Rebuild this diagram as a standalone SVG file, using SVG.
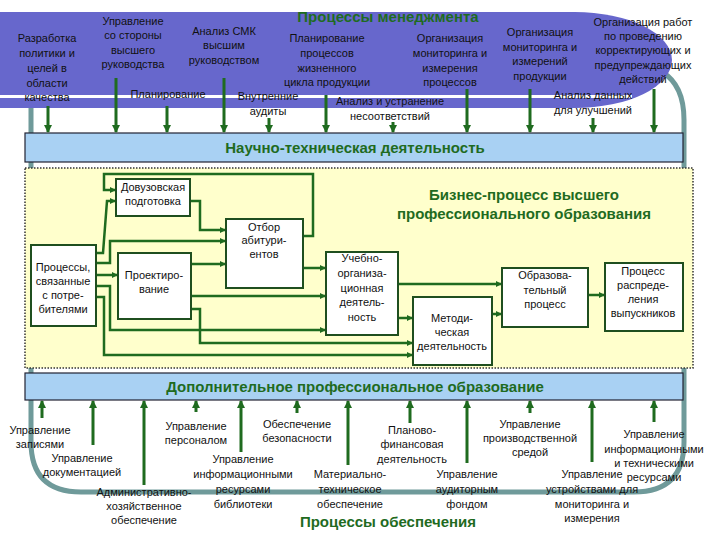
<svg xmlns="http://www.w3.org/2000/svg" width="720" height="540" viewBox="0 0 720 540">
<defs>
<marker id="ah" markerWidth="6" markerHeight="6" refX="5" refY="3" orient="auto" markerUnits="userSpaceOnUse"><path d="M0,0 L6,3 L0,6 Z" fill="#1f6b1f"/></marker>
<marker id="ab" markerWidth="8" markerHeight="8" refX="7" refY="4" orient="auto" markerUnits="userSpaceOnUse"><path d="M0,0 L8,4 L0,8 Z" fill="#1f6b1f"/></marker>
</defs>
<style>
text{font-family:"Liberation Sans",Arial,sans-serif;font-size:11px;fill:#111;text-anchor:middle}
.h{font-size:15px;font-weight:bold;fill:#1f6b1f}
.box{fill:#fff;stroke:#1f4f1f;stroke-width:2}
.c{fill:none;stroke:#1f6b1f;stroke-width:2.5;marker-end:url(#ah)}
.v{fill:none;stroke:#1f6b1f;stroke-width:3;marker-end:url(#ab)}
.bar{fill:#a9d1f3;stroke:#223;stroke-width:1.2}
</style>
<rect width="720" height="540" fill="#fff"/>
<path d="M31,100 V442 Q31,492 81,492 H634 Q684,492 684,442 V120 Q684,85 662,72" fill="none" stroke="#6f9a9a" stroke-width="5"/>
<path d="M0,12 H575 A97,48 0 0 1 575,108 H0 Z" fill="#6767cc"/>
<rect x="0" y="95" width="632" height="3" fill="#fff"/>
<text class="h" x="388" y="22">Процессы менеджмента</text>
<g id="top-texts">
<text x="47" y="42">Разработка</text><text x="47" y="57">политики и</text><text x="47" y="72">целей в</text><text x="47" y="87">области</text><text x="47" y="101">качества</text>
<text x="133" y="25">Управление</text><text x="133" y="39">со стороны</text><text x="133" y="54">высшего</text><text x="133" y="68">руководства</text>
<text x="224" y="35">Анализ СМК</text><text x="224" y="49">высшим</text><text x="224" y="64">руководством</text>
<text x="327" y="42">Планирование</text><text x="327" y="57">процессов</text><text x="327" y="72">жизненного</text><text x="327" y="86">цикла продукции</text>
<text x="450" y="42">Организация</text><text x="450" y="57">мониторинга и</text><text x="450" y="72">измерения</text><text x="450" y="86">процессов</text>
<text x="540" y="36">Организация</text><text x="540" y="51">мониторинга и</text><text x="540" y="65">измерений</text><text x="540" y="80">продукции</text>
<text x="643" y="26">Организация работ</text><text x="643" y="40">по проведению</text><text x="643" y="54">корректирующих и</text><text x="643" y="69">предупреждающих</text><text x="643" y="83">действий</text>
<text x="168" y="98">Планирование</text>
<text x="268" y="100">Внутренние</text><text x="268" y="115">аудиты</text>
<text x="390" y="105">Анализ и устранение</text><text x="390" y="120">несоответствий</text>
<text x="593" y="99">Анализ данных</text><text x="593" y="114">для улучшений</text>
</g>
<g id="bar1"><rect class="bar" x="25" y="133" width="658" height="29"/><text class="h" x="355" y="153">Научно-техническая деятельность</text></g>
<g id="area"><rect x="25" y="168" width="668" height="200" fill="#ffffcc" stroke="#333" stroke-width="1.5" stroke-dasharray="1.5,1.5"/>
<text class="h" x="524" y="200">Бизнес-процесс высшего</text><text class="h" x="524" y="219">профессионального образования</text></g>
<g id="connectors">
<path class="v" d="M48,106 V132"/><path class="v" d="M116,78 V132"/><path class="v" d="M167,106 V132"/><path class="v" d="M224,78 V132"/><path class="v" d="M269,118 V132"/><path class="v" d="M326,95 V132"/><path class="v" d="M393,122 V132"/><path class="v" d="M467,89 V132"/><path class="v" d="M530,89 V132"/><path class="v" d="M593,118 V132"/><path class="v" d="M654,89 V132"/>
<path class="v" d="M42,418 V401"/><path class="v" d="M93,445 V401"/><path class="v" d="M144,485 V401"/><path class="v" d="M196,412 V401"/><path class="v" d="M241,452 V401"/><path class="v" d="M297,413 V401"/><path class="v" d="M348,465 V401"/><path class="v" d="M410,423 V401"/><path class="v" d="M467,463 V401"/><path class="v" d="M530,413 V401"/><path class="v" d="M592,462 V401"/><path class="v" d="M654,422 V401"/>
<path class="c" d="M303,236 H313 V174 H104 V190 H115"/>
<path class="c" d="M96,253 H103 L107,201 H115"/>
<path class="c" d="M190,201 H200 V230 H225"/>
<path class="c" d="M96,263 H110 V241 H225"/>
<path class="c" d="M96,275 H117"/>
<path class="c" d="M191,264 H225"/>
<path class="c" d="M303,268 H325"/>
<path class="c" d="M191,296 H325"/>
<path class="c" d="M96,286 H110 V330 H325"/>
<path class="c" d="M191,309 H200 V343 H412"/>
<path class="c" d="M96,297 H104 V355 H412"/>
<path class="c" d="M398,284 H501"/>
<path class="c" d="M398,318 H412"/>
<path class="c" d="M492,314 H501"/>
<path class="c" d="M588,295 H604"/>
</g>
<g id="n-dovuz"><rect class="box" x="116" y="179" width="74" height="37"/><text x="153" y="191">Довузовская</text><text x="153" y="205">подготовка</text></g>
<g id="n-otbor"><rect class="box" x="226" y="219" width="77" height="69"/><text x="264" y="231">Отбор</text><text x="264" y="244">абитури-</text><text x="264" y="258">ентов</text></g>
<g id="n-potr"><rect class="box" x="31" y="245" width="65" height="81"/><text x="63" y="271">Процессы,</text><text x="63" y="285">связанные</text><text x="63" y="299">с потре-</text><text x="63" y="313">бителями</text></g>
<g id="n-proekt"><rect class="box" x="118" y="253" width="73" height="66"/><text x="154" y="279">Проектиро-</text><text x="154" y="293">вание</text></g>
<g id="n-ucheb"><rect class="box" x="326" y="252" width="72" height="83"/><text x="362" y="262">Учебно-</text><text x="362" y="277">организа-</text><text x="362" y="292">ционная</text><text x="362" y="306">деятель-</text><text x="362" y="321">ность</text></g>
<g id="n-metod"><rect class="box" x="413" y="297" width="79" height="68"/><text x="452" y="322">Методи-</text><text x="452" y="336">ческая</text><text x="452" y="350">деятельность</text></g>
<g id="n-obraz"><rect class="box" x="502" y="268" width="86" height="59"/><text x="545" y="279">Образова-</text><text x="545" y="294">тельный</text><text x="545" y="308">процесс</text></g>
<g id="n-raspr"><rect class="box" x="605" y="263" width="78" height="68"/><text x="643" y="275">Процесс</text><text x="643" y="289">распреде-</text><text x="643" y="303">ления</text><text x="643" y="317">выпускников</text></g>
<g id="bar2"><rect class="bar" x="25" y="373" width="658" height="27"/><text class="h" x="355" y="392">Дополнительное профессиональное образование</text></g>
<g id="bottom-texts">
<text x="40" y="434">Управление</text><text x="40" y="448">записями</text>
<text x="82" y="462">Управление</text><text x="82" y="476">документацией</text>
<text x="144" y="496">Административно-</text><text x="144" y="510">хозяйственное</text><text x="144" y="524">обеспечение</text>
<text x="196" y="430">Управление</text><text x="196" y="444">персоналом</text>
<text x="243" y="463">Управление</text><text x="243" y="478">информационными</text><text x="243" y="493">ресурсами</text><text x="243" y="508">библиотеки</text>
<text x="297" y="428">Обеспечение</text><text x="297" y="442">безопасности</text>
<text x="350" y="478">Материально-</text><text x="350" y="493">техническое</text><text x="350" y="508">обеспечение</text>
<text x="412" y="434">Планово-</text><text x="412" y="448">финансовая</text><text x="412" y="463">деятельность</text>
<text x="467" y="478">Управление</text><text x="467" y="493">аудиторным</text><text x="467" y="508">фондом</text>
<text x="530" y="428">Управление</text><text x="530" y="442">производственной</text><text x="530" y="456">средой</text>
<text x="592" y="478">Управление</text><text x="592" y="493">устройствами для</text><text x="592" y="508">мониторинга и</text><text x="592" y="522">измерения</text>
<text x="654" y="438">Управление</text><text x="654" y="453">информационными</text><text x="654" y="467">и техническими</text><text x="654" y="481">ресурсами</text>
<text class="h" x="388" y="527">Процессы обеспечения</text>
</g>
</svg>
